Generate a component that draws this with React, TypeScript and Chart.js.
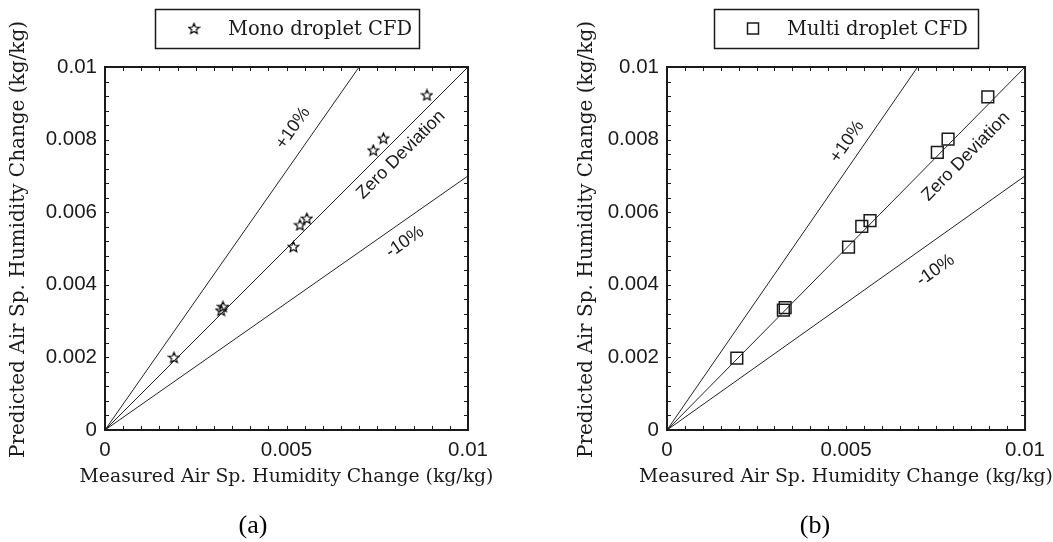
import React, { useEffect, useRef } from 'react';
import { Chart, registerables } from 'chart.js';

Chart.register(...registerables);

// ---------- data ----------
const xTickLabels = ['0', '0.005', '0.01'];
const yTickLabels = ['0', '0.002', '0.004', '0.006', '0.008', '0.01'];

const monoMeasured = [0.0019, 0.0032, 0.00325, 0.00519, 0.00537, 0.00556, 0.00739, 0.00767, 0.00887];
const monoPredicted = [0.002, 0.0033, 0.0034, 0.00505, 0.00565, 0.00583, 0.00771, 0.00804, 0.00923];

const multiMeasured = [0.00195, 0.00325, 0.0033, 0.00507, 0.00544, 0.00567, 0.00755, 0.00785, 0.00896];
const multiPredicted = [0.00198, 0.0033, 0.00337, 0.00504, 0.00561, 0.00577, 0.00765, 0.00801, 0.00918];

const zeroLineX = [0, 0.01];
const zeroLineY = [0, 0.01];
const plusLineX = [0, 0.007];
const plusLineY = [0, 0.01];
const minusLineX = [0, 0.01];
const minusLineY = [0, 0.007];

const lineLabels = ['+10%', 'Zero Deviation', '-10%'];

const xTitle = 'Measured Air Sp. Humidity Change (kg/kg)';
const yTitle = 'Predicted Air Sp. Humidity Change (kg/kg)';

// ---------- helpers ----------
const zip = (xs: number[], ys: number[]) => xs.map((x, i) => ({ x, y: ys[i] }));

const INK = '#1a1a1a';
const SERIF = "'DejaVu Serif', serif";
const SANS = "'Liberation Sans', Arial, sans-serif";

function makeStar(): HTMLCanvasElement {
  const c = document.createElement('canvas');
  c.width = 13;
  c.height = 13;
  const g = c.getContext('2d')!;
  g.strokeStyle = '#000';
  g.lineWidth = 1.2;
  g.lineJoin = 'miter';
  g.beginPath();
  for (let i = 0; i < 10; i++) {
    const r = i % 2 === 0 ? 5.6 : 2.5;
    const a = -Math.PI / 2 + (i * Math.PI) / 5;
    const px = 6.5 + r * Math.cos(a);
    const py = 7 + r * Math.sin(a);
    if (i === 0) g.moveTo(px, py);
    else g.lineTo(px, py);
  }
  g.closePath();
  g.stroke();
  return c;
}

const frameTicks = {
  id: 'frameTicks',
  afterLayout(chart: any) {
    // let the horizontal axis title keep its natural width (no squeezing)
    const x = chart.scales.x;
    x.left -= 120;
    x.right += 120;
    // centre the vertical title slightly above the plot centre
    const y = chart.scales.y;
    y.top -= 9;
    y.bottom -= 9;
  },
  afterDatasetsDraw(chart: any) {
    const { ctx, chartArea: ca, scales } = chart;
    const x = scales.x;
    const y = scales.y;
    const xMinorStep = 0.0005;
    const yMinorStep = 0.0004;
    const len = 4;
    ctx.save();
    ctx.strokeStyle = INK;
    ctx.lineWidth = 1;
    ctx.beginPath();
    for (let i = 0; i <= 20; i++) {
      const px = Math.round(x.getPixelForValue(i * xMinorStep)) + 0.5;
      ctx.moveTo(px, ca.bottom);
      ctx.lineTo(px, ca.bottom - len);
      ctx.moveTo(px, ca.top);
      ctx.lineTo(px, ca.top + len);
    }
    for (let i = 0; i <= 25; i++) {
      const py = Math.round(y.getPixelForValue(i * yMinorStep)) + 0.5;
      ctx.moveTo(ca.left, py);
      ctx.lineTo(ca.left + len, py);
      ctx.moveTo(ca.right, py);
      ctx.lineTo(ca.right - len, py);
    }
    ctx.stroke();
    ctx.lineWidth = 2;
    ctx.strokeRect(ca.left, ca.top, ca.right - ca.left, ca.bottom - ca.top);
    ctx.restore();
  },
};

const lineTexts = {
  id: 'lineTexts',
  afterDatasetsDraw(chart: any, _args: any, opts: any) {
    const { ctx, scales } = chart;
    const x = scales.x;
    const y = scales.y;
    ctx.save();
    ctx.fillStyle = INK;
    ctx.font = `${opts.size}px ${SANS}`;
    ctx.textAlign = 'center';
    ctx.textBaseline = 'middle';
    (opts.items || []).forEach((it: any) => {
      const ds = chart.data.datasets[it.dataset].data;
      const p0x = x.getPixelForValue(ds[0].x);
      const p0y = y.getPixelForValue(ds[0].y);
      const p1x = x.getPixelForValue(ds[1].x);
      const p1y = y.getPixelForValue(ds[1].y);
      const ang = Math.atan2(p1y - p0y, p1x - p0x);
      ctx.save();
      ctx.translate(x.getPixelForValue(it.x), y.getPixelForValue(it.y));
      ctx.rotate(ang);
      ctx.fillText(lineLabels[it.dataset], 0, 0);
      ctx.restore();
    });
    ctx.restore();
  },
};

const boxLegend = {
  id: 'boxLegend',
  afterDraw(chart: any, _args: any, opts: any) {
    const { ctx, chartArea: ca } = chart;
    const ds = chart.data.datasets[3];
    const cx = (ca.left + ca.right) / 2;
    const bw = 264;
    const bh = 39;
    const bx = Math.round(cx - bw / 2);
    const by = 9;
    ctx.save();
    ctx.strokeStyle = INK;
    ctx.lineWidth = 1.5;
    ctx.strokeRect(bx + 0.5, by + 0.5, bw, bh);
    const mx = bx + 39;
    const my = by + bh / 2;
    if (opts.marker === 'star') {
      const st = ds.pointStyle as HTMLCanvasElement;
      ctx.drawImage(st, mx - st.width / 2, my - st.height / 2);
    } else {
      ctx.lineWidth = 1.5;
      ctx.strokeRect(mx - 5.5, my - 5.5, 11, 11);
    }
    ctx.fillStyle = INK;
    ctx.font = `19.5px ${SERIF}`;
    ctx.textAlign = 'left';
    ctx.textBaseline = 'middle';
    ctx.fillText(ds.label, bx + 73, my + 1);
    ctx.restore();
  },
};

interface Spec {
  caption: string;
  label: string;
  xs: number[];
  ys: number[];
  marker: 'star' | 'rect';
  padLeft: number;
  padRight: number;
  yWidth: number;
  yTitlePad: number;
  texts: { dataset: number; x: number; y: number }[];
}

function buildConfig(s: Spec): any {
  const refLine = (xs: number[], ys: number[]) => ({
    type: 'line',
    data: zip(xs, ys),
    borderColor: '#222',
    borderWidth: 1,
    pointRadius: 0,
    fill: false,
    tension: 0,
    clip: false,
  });
  const points: any =
    s.marker === 'star'
      ? {
          type: 'scatter',
          label: s.label,
          data: zip(s.xs, s.ys),
          pointStyle: makeStar(),
          pointRadius: 6,
          showLine: false,
          clip: false,
        }
      : {
          type: 'scatter',
          label: s.label,
          data: zip(s.xs, s.ys),
          pointStyle: 'rect',
          pointRadius: 8.3,
          borderColor: INK,
          borderWidth: 1.5,
          backgroundColor: 'rgba(0,0,0,0)',
          showLine: false,
          clip: false,
        };
  return {
    type: 'scatter',
    data: {
      datasets: [refLine(plusLineX, plusLineY), refLine(zeroLineX, zeroLineY), refLine(minusLineX, minusLineY), points],
    },
    options: {
      animation: false,
      responsive: false,
      events: [],
      layout: { padding: { left: s.padLeft, right: s.padRight, top: 67, bottom: 0 } },
      scales: {
        x: {
          type: 'linear',
          min: 0,
          max: 0.01,
          afterFit: (sc: any) => {
            sc.height = 60;
          },
          ticks: {
            stepSize: 0.005,
            autoSkip: false,
            maxRotation: 0,
            padding: 8,
            color: INK,
            font: { family: SANS, size: 20.5 },
            callback: (_v: any, i: number) => xTickLabels[i],
          },
          grid: { display: false, drawTicks: false },
          border: { display: false },
          title: {
            display: true,
            text: xTitle,
            color: INK,
            font: { family: SERIF, size: 18.8, lineHeight: 1 },
            padding: { top: 0, bottom: 3.5 },
          },
        },
        y: {
          type: 'linear',
          min: 0,
          max: 0.01,
          afterFit: (sc: any) => {
            sc.width = s.yWidth;
          },
          ticks: {
            stepSize: 0.002,
            autoSkip: false,
            padding: 8,
            color: INK,
            font: { family: SANS, size: 20.5 },
            callback: (_v: any, i: number) => yTickLabels[i],
          },
          grid: { display: false, drawTicks: false },
          border: { display: false },
          title: {
            display: true,
            text: yTitle,
            color: INK,
            font: { family: SERIF, size: 20, lineHeight: 1 },
            padding: { top: s.yTitlePad, bottom: 0 },
          },
        },
      },
      plugins: {
        legend: { display: false },
        tooltip: { enabled: false },
        title: {
          display: true,
          position: 'bottom',
          text: s.caption,
          color: '#000',
          fullSize: true,
          font: { family: "'Liberation Serif', 'Times New Roman', serif", size: 26, weight: 'normal', lineHeight: 1 },
          padding: { top: 23, bottom: 3 },
        },
        lineTexts: { size: 18, items: s.texts },
        boxLegend: { marker: s.marker },
      },
    },
    plugins: [frameTicks, lineTexts, boxLegend],
  };
}

const specA: Spec = {
  caption: '(a)',
  label: 'Mono droplet CFD',
  xs: monoMeasured,
  ys: monoPredicted,
  marker: 'star',
  padLeft: 38,
  padRight: 58,
  yWidth: 67,
  yTitlePad: -29.5,
  texts: [
    { dataset: 0, x: 0.00518, y: 0.00832 },
    { dataset: 1, x: 0.00815, y: 0.00758 },
    { dataset: 2, x: 0.00826, y: 0.00518 },
  ],
};

const specB: Spec = {
  caption: '(b)',
  label: 'Multi droplet CFD',
  xs: multiMeasured,
  ys: multiPredicted,
  marker: 'rect',
  padLeft: 73,
  padRight: 22,
  yWidth: 68,
  yTitlePad: -22.25,
  texts: [
    { dataset: 0, x: 0.00503, y: 0.00794 },
    { dataset: 1, x: 0.00835, y: 0.00753 },
    { dataset: 2, x: 0.0075, y: 0.0044 },
  ],
};

function Panel({ spec, left, width }: { spec: Spec; left: number; width: number }) {
  const ref = useRef<HTMLCanvasElement>(null);
  useEffect(() => {
    const chart = new Chart(ref.current as HTMLCanvasElement, buildConfig(spec));
    return () => chart.destroy();
  }, [spec]);
  return (
    <canvas
      ref={ref}
      width={width}
      height={542}
      style={{ position: 'absolute', left, top: 0, width, height: 542, display: 'block' }}
    />
  );
}

export default function App() {
  return (
    <div style={{ position: 'absolute', left: 0, top: 0, width: 1053, height: 542, background: '#fff', overflow: 'hidden' }}>
      <Panel spec={specA} left={0} width={526} />
      <Panel spec={specB} left={526} width={527} />
    </div>
  );
}
